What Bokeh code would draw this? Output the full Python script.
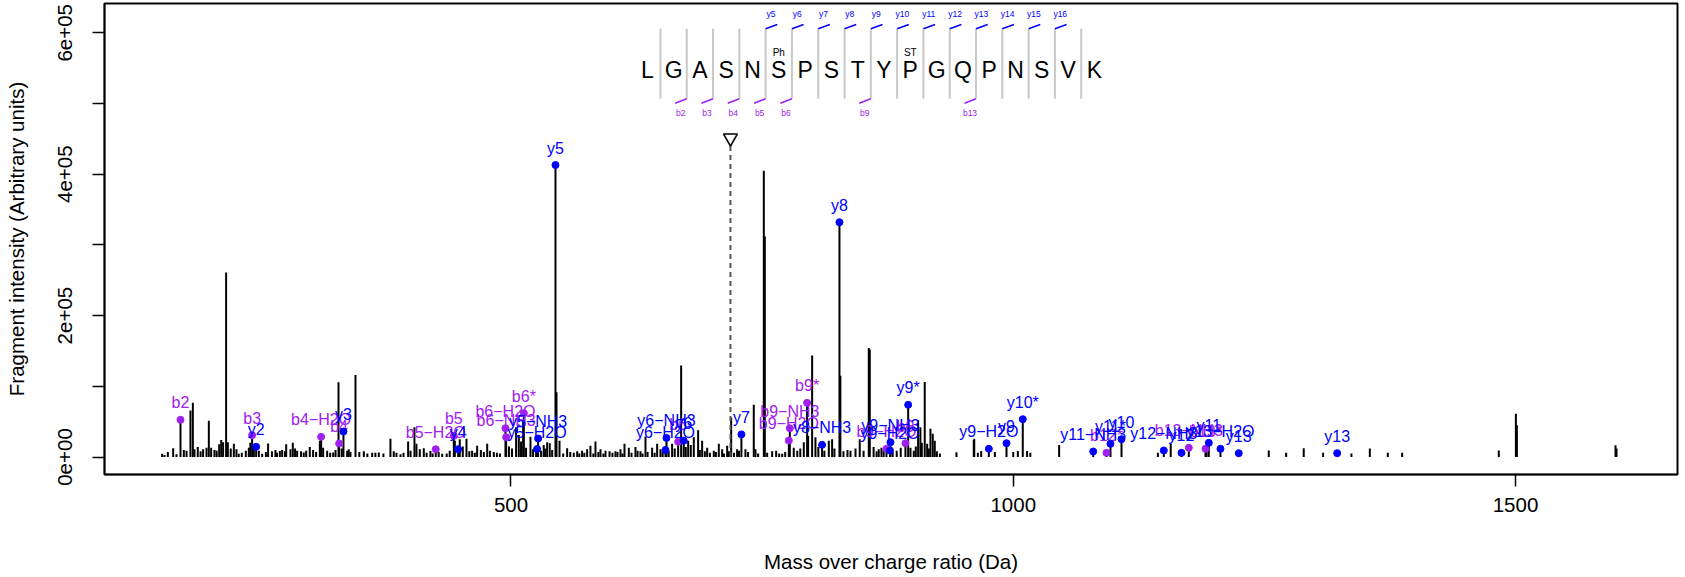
from bokeh.plotting import figure
from bokeh.models import Range1d, FixedTicker, CustomJSTickFormatter, ColumnDataSource
from bokeh.core.properties import value
from bokeh.embed import file_html
from bokeh.resources import INLINE

# ---------------- data ----------------
# unassigned fragment peaks (m/z, intensity)
peak_mz = [152.7, 155, 158.4, 163.7, 167, 174.3, 177, 180.9, 183.3, 184.9, 188.2, 191, 193.5, 196.9, 199.2,
           201.5, 204.8, 207, 209.5, 211.5, 213.4, 216.4, 218.1, 221, 224.1, 226.7, 229.0, 232, 236, 239.0,
           240.5, 244, 249, 252.3, 256, 258.2, 262, 265.5, 267, 269.9, 272.2, 275, 276.2, 280.5, 282.8,
           285, 287.1, 291, 293.7, 296.1, 299.7, 303, 306, 309.7, 313.0, 317, 320, 323.0, 325.3, 328.3,
           331.5, 336.9, 338.5, 340.2, 345.2, 349, 353.5, 357, 361.8, 365, 368.4, 373, 380.0, 383.3, 386,
           390, 393, 397.6, 400, 403.9, 405.9, 409.2, 413.2, 416, 419.8, 422, 428, 431.5, 436, 439, 444.1,
           449.0, 452, 455.7, 458.5, 461.3, 464, 466.3, 470, 473, 476.3, 479, 482.9, 486, 489, 498, 501,
           505.1, 507.8, 510, 512.1, 515, 519.4, 522, 525, 530, 532.6, 534, 536.0, 538.6, 541,
           545.3, 548.3, 552, 555.9, 559, 562.5, 565.9, 568, 570.8, 573, 575.8, 579.1, 582, 584.1, 587,
           589.1, 592, 594.1, 598.1, 601, 604.0, 606, 609.0, 611, 613.0, 617.3, 620, 623.9, 626, 628.9,
           631, 633.9, 636, 640.5, 643, 645.5, 648.8, 651, 657, 660.4, 663, 669.4, 674, 676.4, 679, 682.0,
           686.3, 688, 690.3, 693, 695.3, 698, 701.9, 704, 706.9, 710.2, 712, 715.2, 717, 719.2, 722,
           725.1, 727, 733.4, 736, 741.7, 743.4, 746, 751.7, 752.7, 755, 760.0, 764.0, 767, 770.0, 773,
           781.5, 785, 788, 791.5, 795.8, 799.8, 803.1, 806, 812, 816.4, 819.7, 822, 827.9, 831, 835,
           838.0, 843, 847.2, 851, 856.2, 857.2, 861, 864, 866.1, 868.8, 871, 880, 884, 888, 897.7,
           901.0, 903, 905.3, 907.6, 909, 911.9, 914.3, 916, 917.6, 919.9, 921.9, 924, 927, 943.5, 960.7,
           961.2, 964.8, 968.1, 981.7, 1000.0, 1004.6, 1013.8, 1017.0, 1045.7, 1144.0, 1156.8, 1192.5,
           1254.4, 1271.7, 1289.2, 1308.5, 1336.7, 1355.0, 1372.9, 1387.2, 1483.4, 1500.4, 1501.4,
           1599.6, 1600.6]
peak_int = [4500, 3000, 7000, 12500, 4000, 10000, 9000, 65800, 76600, 11000, 14000, 8000, 11000, 13000, 51200,
            13000, 10000, 9000, 18000, 24000, 21000, 261000, 21000, 12000, 18600, 11000, 4500, 6000, 9000, 13000,
            20000, 15000, 9000, 4500, 7000, 19000, 8000, 10000, 6000, 8500, 10000, 8000, 18000, 11000, 20000,
            12000, 9000, 8000, 6500, 9000, 14000, 10000, 7000, 23000, 13000, 9000, 6000, 6500, 10000, 105800,
            12000, 9000, 11000, 7000, 116000, 7000, 8000, 5000, 6000, 6000, 6500, 5000, 25700, 8000, 6000,
            4000, 6000, 22000, 9000, 42000, 18600, 11000, 12500, 6000, 8500, 5000, 7000, 4500, 5000, 9000, 23000,
            25000, 15000, 25700, 8000, 9000, 6000, 16000, 10000, 7000, 18600, 9000, 7000, 6000, 5000, 15000, 12000,
            42000, 31000, 22000, 51400, 13000, 28700, 11000, 8000, 9000, 17000, 12000, 21000, 19500, 10000,
            91700, 23000, 5000, 12500, 7000, 6000, 8000, 5000, 9000, 6000, 11000, 16000, 5000, 22000, 7000,
            11000, 5000, 9000, 8000, 6000, 8000, 7000, 11000, 5000, 18600, 13000, 6000, 14000, 9000, 8000,
            5000, 29000, 7000, 13000, 6000, 18600, 11000, 8000, 9000, 18600, 12000, 129400, 14000, 23000, 17000, 28000,
            38000, 10000, 23000, 8000, 13000, 6000, 9000, 7000, 18600, 11000, 5000, 16000, 8000, 55400, 6000,
            11000, 9000, 11000, 7000, 73800, 11000, 5000, 405000, 312000, 6000, 8000, 9000, 5000, 4500, 7000,
            13000, 9000, 12000, 21000, 30000, 143500, 28000, 14000, 9000, 23000, 25000, 12000, 115000, 8000, 10000,
            9000, 12000, 25000, 9000, 154000, 152000, 14000, 8000, 11000, 13000, 10000, 7000, 9000, 13000, 13000,
            9000, 15000, 52000, 42000, 20000, 106000, 18600, 12000, 40000, 33000, 23000, 8000, 5000, 6800, 24000,
            25700, 6000, 8500, 7000, 7000, 8500, 8500, 6000, 17000, 6000, 18500, 16000,
            9200, 6000, 12300, 6000, 5000, 12000, 6000, 6000, 9200, 61000, 45000,
            16700, 12000]

# assigned fragment ions
ion_mz = [171.0, 242.3, 311.0, 328.9, 425.1, 443.1, 494.5, 495.2, 512.8, 666.4, 776.6, 777.6, 794.8,
          873.8, 892.7, 1092.8, 1174.8, 1191.4,
          246.3, 333.2, 447.4, 526.0, 527.0, 544.3, 653.8, 654.8, 672.0, 729.4, 809.7, 827.0, 877.3, 877.8,
          895.4, 975.7, 993.3, 1009.5, 1079.6, 1096.8, 1107.8, 1149.9, 1167.5, 1194.7, 1206.3, 1224.5, 1322.5]
ion_int = [52600, 30900, 28500, 19100, 11000, 30000, 40700, 28000, 62000, 21700, 23300, 40700, 76600,
           11600, 19500, 5900, 13000, 11600,
           14400, 36000, 11000, 11300, 26200, 413000, 10000, 27000, 23000, 32000, 17200, 332000, 9200, 20900,
           73800, 11600, 19500, 53500, 7800, 18700, 25200, 9200, 5900, 20000, 11600, 5400, 5400]
ion_label = ["b2", "b3", "b4\u2212H2O", "b4", "b5\u2212H2O", "b5", "b6\u2212H2O", "b6\u2212NH3", "b6*", "b6",
             "b9\u2212H2O", "b9\u2212NH3", "b9*", "b9\u2212H2O", "b9", "b12*", "b13\u2212NH3", "b13*",
             "y2", "y3", "y4", "y5\u2212H2O", "y5\u2212NH3", "y5", "y6\u2212H2O", "y6\u2212NH3", "y6", "y7",
             "y8\u2212NH3", "y8", "y9\u2212H2O", "y9\u2212NH3", "y9*", "y9\u2212H2O", "y9", "y10*",
             "y11\u2212NH3", "y11*", "y10", "y12\u2212NH3", "y12", "y11", "y13\u2212H2O", "y13", "y13"]
ion_type = ["b"] * 18 + ["y"] * 27

# peptide annotation
sequence = list("LGASNSPSTYPGQPNSVK")
b_sites = [2, 3, 4, 5, 6, 9, 13]
b_names = ["b2", "b3", "b4", "b5", "b6", "b9", "b13"]
y_sites = [5, 6, 7, 8, 9, 10, 11, 12, 13, 14, 15, 16]
y_names = ["y5", "y6", "y7", "y8", "y9", "y10", "y11", "y12", "y13", "y14", "y15", "y16"]
mod_sites = [6, 11]
mod_names = ["Ph", "ST"]
precursor_mz = 718.5

# ---------------- styling / layout ----------------
BLUE = "#0000FF"
PURPLE = "#A020F0"
FONT = "Liberation Sans"

p = figure(width=1685, height=577, x_range=Range1d(95.33, 1661.3), y_range=Range1d(-24750, 641440),
           output_backend="svg", toolbar_location=None, min_border_left=104, min_border_right=8,
           min_border_top=3, min_border_bottom=103)
p.background_fill_color = "white"
p.border_fill_color = "white"
p.outline_line_color = "black"
p.outline_line_width = 2
p.grid.visible = False

p.xaxis.ticker = FixedTicker(ticks=[500, 1000, 1500])
p.yaxis.ticker = FixedTicker(ticks=[0, 100000, 200000, 300000, 400000, 500000, 600000])
p.yaxis.formatter = CustomJSTickFormatter(code="""
    if (Math.round(tick) % 200000 != 0) { return ""; }
    if (tick == 0) { return "0e+00"; }
    return String(Math.round(tick / 100000)) + "e+05";
""")
for ax in (p.xaxis[0], p.yaxis[0]):
    ax.major_tick_out = 12
    ax.major_tick_in = 0
    ax.minor_tick_out = 0
    ax.minor_tick_in = 0
    ax.major_tick_line_width = 1.5
    ax.axis_line_width = 1.5
    ax.major_label_text_font = FONT
    ax.major_label_text_font_size = "20.5px"
    ax.major_label_text_color = "black"
    ax.axis_label_text_font = FONT
    ax.axis_label_text_font_size = "20.5px"
    ax.axis_label_text_font_style = "normal"
    ax.axis_label_text_color = "black"
p.xaxis.axis_label = "Mass over charge ratio (Da)"
p.yaxis.axis_label = "Fragment intensity (Arbitrary units)"
p.xaxis.major_label_standoff = 11
p.xaxis.axis_label_standoff = 35
p.yaxis.major_label_standoff = 20
p.yaxis.axis_label_standoff = 28
p.yaxis.major_label_orientation = "vertical"

# all peaks as sticks
p.segment(x0=peak_mz, y0=[0] * len(peak_mz), x1=peak_mz, y1=peak_int, line_color="black", line_width=2)
p.segment(x0=ion_mz, y0=[0] * len(ion_mz), x1=ion_mz, y1=ion_int, line_color="black", line_width=2)

# precursor marker
prec_top = 440600
p.segment(x0=[precursor_mz], y0=[0], x1=[precursor_mz], y1=[prec_top], line_color="#555555",
          line_width=2, line_dash="5 4")
p.scatter(x=[precursor_mz], y=[451200], marker="inverted_triangle", size=14, fill_color="white",
          line_color="black", line_width=1.6)

# assigned ions
for kind, col in (("b", PURPLE), ("y", BLUE)):
    idx = [i for i, t in enumerate(ion_type) if t == kind]
    src = ColumnDataSource(dict(x=[ion_mz[i] for i in idx], y=[ion_int[i] for i in idx],
                                t=[ion_label[i] for i in idx]))
    p.scatter(x="x", y="y", source=src, size=7, fill_color=col, line_color=col)
    p.text(x="x", y="y", text="t", source=src, text_color=col, text_align="center",
           text_baseline="middle", y_offset=-17, text_font=value(FONT), text_font_size=value("16px"))

# peptide header
STEP = 26.18          # data units between residues
SEP0 = 648.8          # first separator position
Y_SEP_TOP, Y_SEP_BOT = 605650, 506650
sep_x = [SEP0 + STEP * i for i in range(len(sequence) - 1)]
p.segment(x0=sep_x, y0=[Y_SEP_BOT] * len(sep_x), x1=sep_x, y1=[Y_SEP_TOP] * len(sep_x),
          line_color="#C8C8C8", line_width=2)
res_x = [SEP0 + STEP * (i - 0.5) for i in range(len(sequence))]
p.text(x=res_x, y=[547000] * len(res_x), text=sequence, text_align="center", text_baseline="middle",
       text_color="black", text_font=value(FONT), text_font_size=value("23px"))
p.text(x=[res_x[s - 1] for s in mod_sites], y=[572100] * len(mod_sites), text=mod_names,
       text_align="center", text_baseline="middle", text_color="black", text_font=value(FONT),
       text_font_size=value("10px"))

yx = [sep_x[s - 1] for s in y_sites]
p.segment(x0=yx, y0=[Y_SEP_TOP] * len(yx), x1=[v + 11.6 for v in yx], y1=[611700] * len(yx),
          line_color=BLUE, line_width=1.5)
p.text(x=[v + 5.3 for v in yx], y=[625900] * len(yx), text=y_names, text_align="center",
       text_baseline="middle", text_color=BLUE, text_font=value(FONT), text_font_size=value("8.5px"))

bx = [sep_x[s - 1] for s in b_sites]
p.segment(x0=bx, y0=[Y_SEP_BOT] * len(bx), x1=[v - 11.6 for v in bx], y1=[500400] * len(bx),
          line_color=PURPLE, line_width=1.5)
p.text(x=[v - 6 for v in bx], y=[486850] * len(bx), text=b_names, text_align="center",
       text_baseline="middle", text_color=PURPLE, text_font=value(FONT), text_font_size=value("8.5px"))

open("out.html", "w").write(file_html(p, INLINE))
